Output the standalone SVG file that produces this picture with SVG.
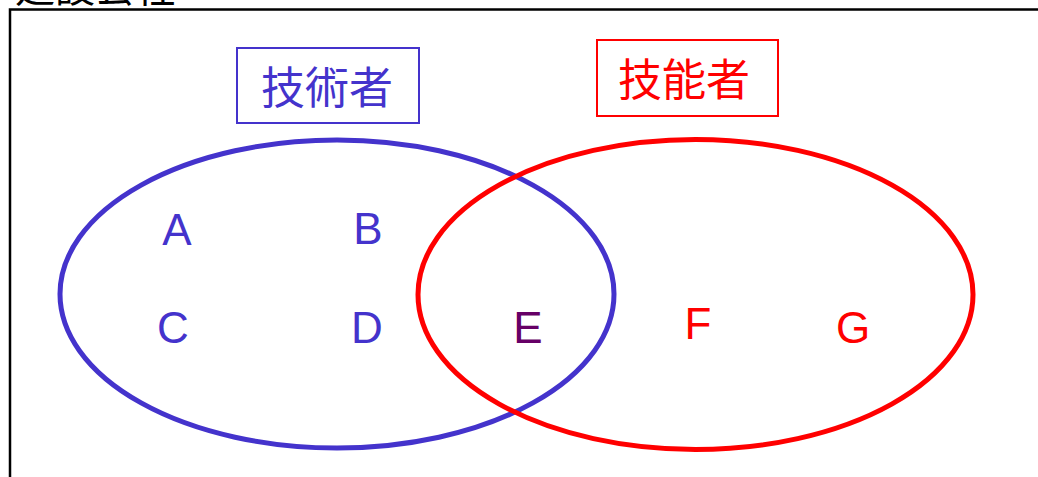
<svg xmlns="http://www.w3.org/2000/svg" width="1038" height="477" viewBox="0 0 1038 477">
<style>
.lt{font-family:"Liberation Sans",Arial,sans-serif;font-size:44px;text-anchor:middle}
.jp{font-family:"Noto Sans CJK JP","Noto Sans CJK SC",sans-serif;text-anchor:middle;font-size:44px}
.blue{fill:#4433CC}
.red{fill:#FF0000}
</style>
<rect width="1038" height="477" fill="#ffffff"/>
<g id="frame">
<path d="M10,480 V9.5 H1045" fill="none" stroke="#000" stroke-width="2.5"/>
<text x="15" y="2" font-family="Noto Sans CJK JP,Noto Sans CJK SC,sans-serif" font-size="40" fill="#000">建設会社：</text>
</g>
<g id="tech-set">
<ellipse cx="337" cy="294" rx="277" ry="154" fill="none" stroke="#4433CC" stroke-width="5"/>
</g>
<g id="skill-set">
<ellipse cx="695.5" cy="294.5" rx="277.5" ry="155" fill="none" stroke="#FF0000" stroke-width="5"/>
</g>
<g id="label-tech">
<rect x="237" y="48" width="182" height="75" fill="none" stroke="#4433CC" stroke-width="2"/>
<text class="jp blue" x="327" y="104">技術者</text>
</g>
<g id="label-skill">
<rect x="597" y="40" width="181" height="76" fill="none" stroke="#FF0000" stroke-width="2"/>
<text class="jp red" x="684" y="96">技能者</text>
</g>
<g id="members">
<text class="lt blue" x="177" y="245">A</text>
<text class="lt blue" x="368" y="244">B</text>
<text class="lt blue" x="173" y="343">C</text>
<text class="lt blue" x="367" y="343">D</text>
<text class="lt" x="528" y="343" fill="#660066">E</text>
<text class="lt red" x="698" y="339">F</text>
<text class="lt red" x="853" y="343">G</text>
</g>
<g id="connectors"/>
</svg>
